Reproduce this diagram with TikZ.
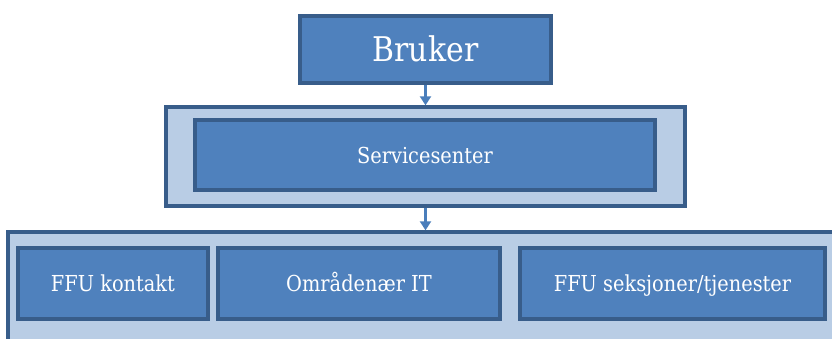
\documentclass[tikz,border=0pt]{standalone}
\usepackage{fontspec}
\setmainfont[FakeStretch=0.88]{DejaVu Serif}
\usetikzlibrary{arrows.meta}
\definecolor{boxfill}{HTML}{4F81BD}
\definecolor{boxline}{HTML}{385D8A}
\definecolor{panelfill}{HTML}{B9CDE5}
\definecolor{arrowcol}{HTML}{4A7EBB}
\tikzset{
  bluebox/.style={draw=boxline, line width=3.4pt, fill=boxfill, text=white, inner sep=0pt, text height=16pt, text depth=0pt, font=\fontsize{22}{26}\selectfont},
  panel/.style={draw=boxline, line width=3.4pt, fill=panelfill, inner sep=0pt},
  flow/.style={draw=arrowcol, line width=2.2pt, -{Triangle[length=9pt,width=11pt]}}
}
\begin{document}
\begin{tikzpicture}[x=1pt,y=-1pt]
\clip (0,0) rectangle (832,338);
\fill[white] (0,0) rectangle (832,338);
\node[bluebox, minimum width=251pt, minimum height=67pt, text height=24.8pt, font=\fontsize{34}{40}\selectfont] (bruker) at (425.5,49.5) {Bruker};
\node[panel, minimum width=519pt, minimum height=99pt] (outer) at (425.5,156.5) {};
\node[bluebox, minimum width=460pt, minimum height=70pt] (service) at (425,155) {Servicesenter};
\node[panel, minimum width=837pt, minimum height=118pt] (band) at (426.5,291) {};
\node[bluebox, minimum width=190pt, minimum height=71pt] (ffuk) at (113,283.5) {FFU kontakt};
\node[bluebox, minimum width=282pt, minimum height=71pt] (omr) at (359,283.5) {Områdenær IT};
\node[bluebox, minimum width=305pt, minimum height=71pt] (ffus) at (672.5,283.5) {FFU seksjoner/tjenester};
\draw[flow] (bruker.south) -- (outer.north);
\draw[flow] (outer.south) -- (outer.south |- band.north);
\end{tikzpicture}
\end{document}
